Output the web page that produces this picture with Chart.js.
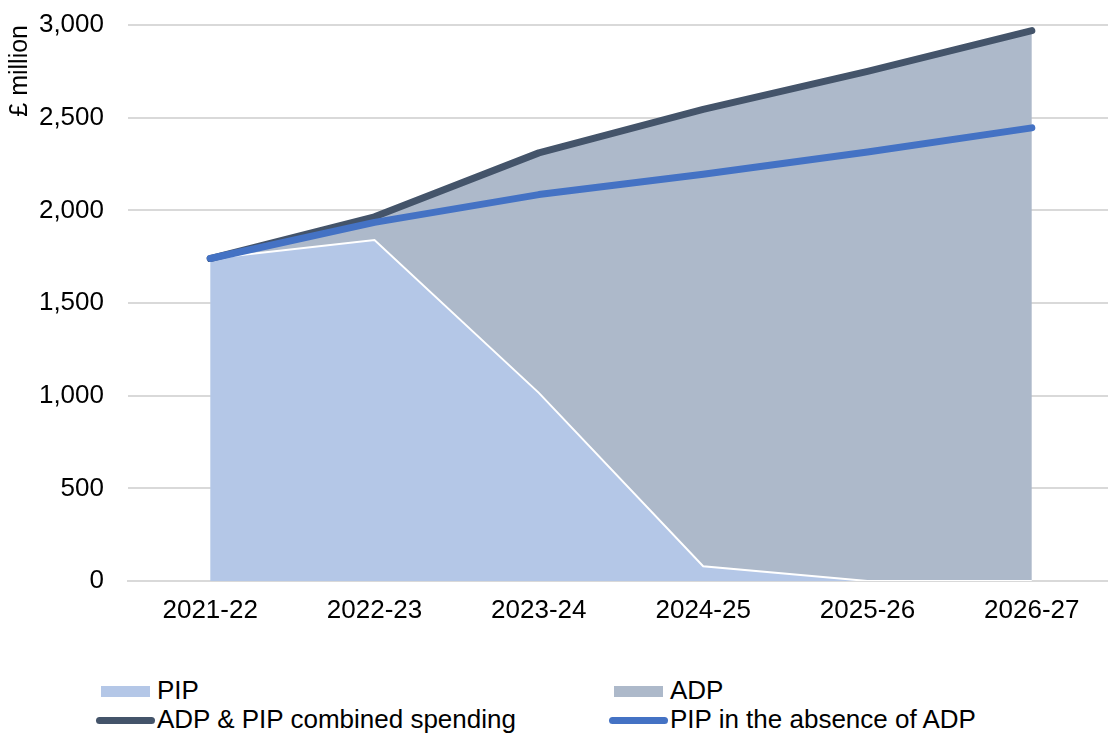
<!DOCTYPE html>
<html>
<head>
<meta charset="utf-8">
<script src="https://cdn.jsdelivr.net/npm/chart.js@4"></script>
<style>
  body { margin: 0; overflow: hidden; background: #fff; font-family: "Liberation Sans", Arial, sans-serif; }
  #wrap { position: absolute; left: 0; top: 0; width: 1114px; height: 640px; }
  .sw { position: absolute; }
  .txt { position: absolute; font-size: 26px; line-height: 30px; color: #000; white-space: nowrap; }
</style>
</head>
<body>
<div id="wrap"><canvas id="chart"></canvas></div>
<div id="legend"></div>
<script>
const years = ['2021-22', '2022-23', '2023-24', '2024-25', '2025-26', '2026-27'];
const pip = [1740, 1840, 1015, 80, 0, 0];
const adp = [0, 125, 1295, 2465, 2750, 2970];
const combined = [1740, 1965, 2310, 2545, 2750, 2970];
const pipNoAdp = [1740, 1935, 2085, 2195, 2315, 2445];

Chart.defaults.font.family = '"Liberation Sans", Arial, sans-serif';

const chart = new Chart(document.getElementById('chart'), {
  type: 'line',
  data: {
    labels: years,
    datasets: [
      {
        label: 'PIP',
        data: pip,
        stack: 'spend',
        fill: 'origin',
        backgroundColor: '#B4C7E7',
        borderColor: '#ffffff',
        borderWidth: 2,
        pointRadius: 0,
        order: 2,
      },
      {
        label: 'ADP',
        data: adp,
        stack: 'spend',
        fill: '-1',
        backgroundColor: '#ADB9CA',
        borderColor: 'rgba(0,0,0,0)',
        borderWidth: 0,
        pointRadius: 0,
        order: 3,
      },
      {
        label: 'ADP & PIP combined spending',
        data: combined,
        stack: 'combined',
        fill: false,
        borderColor: '#44546A',
        borderWidth: 7,
        borderCapStyle: 'round',
        borderJoinStyle: 'round',
        pointRadius: 0,
        order: 1,
      },
      {
        label: 'PIP in the absence of ADP',
        data: pipNoAdp,
        stack: 'noAdp',
        fill: false,
        borderColor: '#4472C4',
        borderWidth: 7,
        borderCapStyle: 'round',
        borderJoinStyle: 'round',
        pointRadius: 0,
        order: 0,
      },
    ],
  },
  options: {
    responsive: true,
    maintainAspectRatio: false,
    animation: false,
    layout: { padding: { top: 25, right: 0, bottom: 0, left: 0 } },
    plugins: {
      legend: { display: false },
      tooltip: { enabled: false },
    },
    scales: {
      x: {
        z: 1, // axis line sits over the white PIP edge where it runs along zero
        offset: true,
        grid: { display: false, drawTicks: false },
        border: { display: true, color: '#d9d9d9', width: 2 },
        ticks: { color: '#000', font: { size: 26 }, padding: 14, maxRotation: 0 },
        afterFit: s => { s.height = 59; },
      },
      y: {
        stacked: true,
        min: 0,
        max: 3000,
        ticks: { stepSize: 500, color: '#000', font: { size: 26 }, padding: 24 },
        grid: { color: '#d9d9d9', lineWidth: 2, drawTicks: false },
        border: { display: false },
        title: {
          display: true,
          text: '£ million',
          align: 'end',
          color: '#000',
          font: { size: 25 },
          padding: { top: 5, bottom: 0 },
        },
        afterFit: s => {
          s.width = 128;
          s.paddingTop = 0;
          s.paddingBottom = 0;
        },
      },
    },
  },
});

// legend below the plot, two rows by two columns
const legendItems = [
  { text: 'PIP', color: '#B4C7E7', kind: 'box', x: 101, row: 0, textX: 157 },
  { text: 'ADP', color: '#ADB9CA', kind: 'box', x: 614, row: 0, textX: 670 },
  { text: 'ADP & PIP combined spending', color: '#44546A', kind: 'line', x: 96, row: 1, textX: 157 },
  { text: 'PIP in the absence of ADP', color: '#4472C4', kind: 'line', x: 609, row: 1, textX: 670 },
];
const legend = document.getElementById('legend');
legendItems.forEach(item => {
  const cy = item.row === 0 ? 691 : 720;
  const sw = document.createElement('div');
  sw.className = 'sw';
  sw.style.background = item.color;
  if (item.kind === 'box') {
    sw.style.left = item.x + 'px';
    sw.style.top = (cy - 5) + 'px';
    sw.style.width = '49px';
    sw.style.height = '11px';
  } else {
    sw.style.left = item.x + 'px';
    sw.style.top = (cy - 3.5) + 'px';
    sw.style.width = '59px';
    sw.style.height = '7px';
    sw.style.borderRadius = '3.5px';
  }
  legend.appendChild(sw);
  const t = document.createElement('div');
  t.className = 'txt';
  t.textContent = item.text;
  t.style.left = item.textX + 'px';
  t.style.top = (cy - 16) + 'px';
  legend.appendChild(t);
});
</script>
</body>
</html>
